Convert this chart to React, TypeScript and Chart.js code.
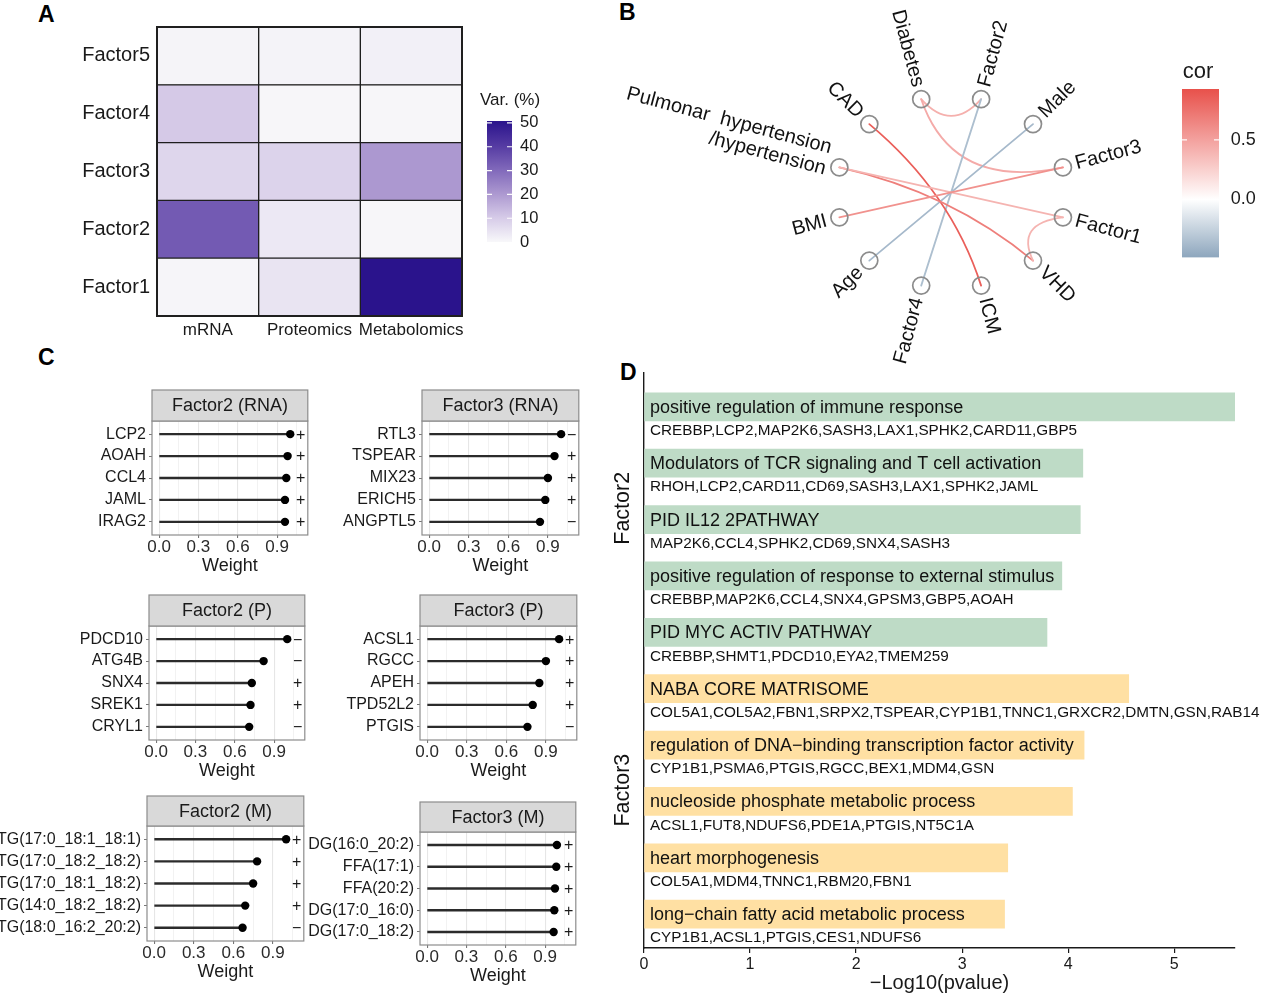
import React, { useEffect, useRef } from 'react';
import { Chart, registerables } from 'chart.js';

Chart.register(...registerables);
const FONT = "'Liberation Sans', Arial, Helvetica, sans-serif";
Chart.defaults.font.family = FONT;
Chart.defaults.color = '#1a1a1a';

// ---------------- Panel A data ----------------
const omicsLabels = ['mRNA', 'Proteomics', 'Metabolomics'];
const factorLabelsA = ['Factor5', 'Factor4', 'Factor3', 'Factor2', 'Factor1'];
const varMRNA = [0.9, 10.5, 7.7, 33.5, 0.7];
const varProteomics = [1.2, 0.4, 8.4, 3.5, 4.6];
const varMetabolomics = [1.7, 0.4, 20.3, 0.4, 50.8];
const varTicks = [0, 10, 20, 30, 40, 50];
const varLimits = [0, 50.8];

// ---------------- Panel B data ----------------
const nodeNames = ['Diabetes', 'Factor2', 'Male', 'Factor3', 'Factor1', 'VHD', 'ICM', 'Factor4', 'Age', 'BMI', 'PH', 'CAD'];
const nodeLabels = [['Diabetes'], ['Factor2'], ['Male'], ['Factor3'], ['Factor1'], ['VHD'], ['ICM'], ['Factor4'], ['Age'], ['BMI'], ['Pulmonar  hypertension', '/hypertension'], ['CAD']];
const edgeFrom = ['Diabetes', 'Diabetes', 'Factor2', 'Male', 'CAD', 'PH', 'PH', 'BMI', 'Factor1'];
const edgeTo = ['Factor2', 'Factor3', 'Factor4', 'Age', 'ICM', 'VHD', 'Factor1', 'Factor3', 'VHD'];
const edgeCor = [0.42, 0.45, -0.35, -0.38, 0.85, 0.68, 0.4, 0.58, 0.4];
const corTicks = [0, 0.5];
const corLimits = [-0.486, 0.926];

// ---------------- Panel C data ----------------
const weightTicks = [0, 0.3, 0.6, 0.9];
const f2RnaGenes = ['LCP2', 'AOAH', 'CCL4', 'JAML', 'IRAG2'];
const f2RnaW = [1.0, 0.98, 0.97, 0.96, 0.96];
const f2RnaSign = ['+', '+', '+', '+', '+'];
const f3RnaGenes = ['RTL3', 'TSPEAR', 'MIX23', 'ERICH5', 'ANGPTL5'];
const f3RnaW = [1.0, 0.95, 0.9, 0.88, 0.84];
const f3RnaSign = ['−', '+', '+', '+', '−'];
const f2PGenes = ['PDCD10', 'ATG4B', 'SNX4', 'SREK1', 'CRYL1'];
const f2PW = [1.0, 0.82, 0.73, 0.72, 0.71];
const f2PSign = ['−', '−', '+', '+', '−'];
const f3PGenes = ['ACSL1', 'RGCC', 'APEH', 'TPD52L2', 'PTGIS'];
const f3PW = [1.0, 0.9, 0.85, 0.8, 0.76];
const f3PSign = ['+', '+', '+', '+', '−'];
const f2MGenes = ['TG(17:0_18:1_18:1)', 'TG(17:0_18:2_18:2)', 'TG(17:0_18:1_18:2)', 'TG(14:0_18:2_18:2)', 'TG(18:0_16:2_20:2)'];
const f2MW = [1.0, 0.78, 0.75, 0.69, 0.67];
const f2MSign = ['+', '+', '+', '+', '−'];
const f3MGenes = ['DG(16:0_20:2)', 'FFA(17:1)', 'FFA(20:2)', 'DG(17:0_16:0)', 'DG(17:0_18:2)'];
const f3MW = [0.99, 0.985, 0.975, 0.97, 0.965];
const f3MSign = ['+', '+', '+', '+', '+'];

// ---------------- Panel D data ----------------
const termNames = [
  'positive regulation of immune response',
  'Modulators of TCR signaling and T cell activation',
  'PID IL12 2PATHWAY',
  'positive regulation of response to external stimulus',
  'PID MYC ACTIV PATHWAY',
  'NABA CORE MATRISOME',
  'regulation of DNA−binding transcription factor activity',
  'nucleoside phosphate metabolic process',
  'heart morphogenesis',
  'long−chain fatty acid metabolic process',
];
const termGenes = [
  'CREBBP,LCP2,MAP2K6,SASH3,LAX1,SPHK2,CARD11,GBP5',
  'RHOH,LCP2,CARD11,CD69,SASH3,LAX1,SPHK2,JAML',
  'MAP2K6,CCL4,SPHK2,CD69,SNX4,SASH3',
  'CREBBP,MAP2K6,CCL4,SNX4,GPSM3,GBP5,AOAH',
  'CREBBP,SHMT1,PDCD10,EYA2,TMEM259',
  'COL5A1,COL5A2,FBN1,SRPX2,TSPEAR,CYP1B1,TNNC1,GRXCR2,DMTN,GSN,RAB14',
  'CYP1B1,PSMA6,PTGIS,RGCC,BEX1,MDM4,GSN',
  'ACSL1,FUT8,NDUFS6,PDE1A,PTGIS,NT5C1A',
  'COL5A1,MDM4,TNNC1,RBM20,FBN1',
  'CYP1B1,ACSL1,PTGIS,CES1,NDUFS6',
];
const termLogP = [5.573, 4.138, 4.114, 3.94, 3.8, 4.571, 4.15, 4.04, 3.43, 3.4];
const termGroup = ['Factor2', 'Factor2', 'Factor2', 'Factor2', 'Factor2', 'Factor3', 'Factor3', 'Factor3', 'Factor3', 'Factor3'];
const logPTicks = [0, 1, 2, 3, 4, 5];

// ---------------- colour helpers ----------------
const VAR_STOPS = [
  [248, 248, 250],
  [214, 203, 232],
  [172, 152, 208],
  [128, 104, 186],
  [84, 58, 162],
  [42, 19, 140],
];
const COR_LOW = [141, 166, 189];
const COR_MID = [255, 255, 255];
const COR_HIGH = [232, 81, 75];
const GREEN = '#BEDBC6';
const ORANGE = '#FFE0A3';

const clamp = (t: number) => Math.max(0, Math.min(1, t));
function mix(a: number[], b: number[], t: number) {
  const c = a.map((v, i) => Math.round(v + (b[i] - v) * clamp(t)));
  return `rgb(${c[0]},${c[1]},${c[2]})`;
}
function varColor(v: number) {
  const t = clamp((v - varLimits[0]) / (varLimits[1] - varLimits[0]));
  const n = VAR_STOPS.length - 1;
  const k = Math.min(n - 1, Math.floor(t * n));
  return mix(VAR_STOPS[k], VAR_STOPS[k + 1], t * n - k);
}
function corColor(v: number) {
  return v >= 0 ? mix(COR_MID, COR_HIGH, v / corLimits[1]) : mix(COR_MID, COR_LOW, v / corLimits[0]);
}

const noPlugins = { legend: { display: false }, tooltip: { enabled: false }, title: { display: false } };

// ---------------- generic canvas ----------------
function ChartCanvas({ left, top, width, height, make }: { left: number; top: number; width: number; height: number; make: () => any }) {
  const ref = useRef<HTMLCanvasElement | null>(null);
  useEffect(() => {
    const chart = new Chart(ref.current as HTMLCanvasElement, make());
    return () => chart.destroy();
  }, []);
  return (
    <canvas
      ref={ref}
      width={width}
      height={height}
      style={{ position: 'absolute', left, top, width, height }}
    />
  );
}

// ---------------- Panel A ----------------
function heatmapConfig() {
  const cols = [varMRNA, varProteomics, varMetabolomics];
  return {
    type: 'bar',
    data: {
      labels: factorLabelsA,
      datasets: omicsLabels.map((name, j) => ({
        label: name,
        data: factorLabelsA.map(() => 1),
        backgroundColor: cols[j].map(varColor),
        borderColor: '#1f1f1f',
        borderWidth: 1,
        borderSkipped: false,
        barPercentage: 1,
        categoryPercentage: 1,
      })),
    },
    options: {
      indexAxis: 'y',
      responsive: false,
      animation: false,
      layout: { padding: { top: 27, right: 13, left: 0, bottom: 0 } },
      plugins: noPlugins,
      scales: {
        x: {
          type: 'linear',
          stacked: true,
          offset: false,
          min: 0,
          max: omicsLabels.length,
          afterBuildTicks: (s: any) => { s.ticks = omicsLabels.map((_, j) => ({ value: j + 0.5 })); },
          afterFit: (s: any) => { s.height = 29; },
          ticks: { callback: (v: number) => omicsLabels[Math.floor(v)], font: { size: 17 }, color: '#1a1a1a', padding: 4, autoSkip: false, maxRotation: 0 },
          grid: { display: false, drawTicks: false },
          border: { display: false },
        },
        y: {
          stacked: true,
          afterFit: (s: any) => { s.width = 157; },
          ticks: { font: { size: 20 }, color: '#1a1a1a', padding: 7 },
          grid: { display: false, drawTicks: false },
          border: { display: false },
        },
      },
    },
    plugins: [{
      id: 'outline',
      afterDatasetsDraw(chart: any) {
        const { ctx, chartArea: a } = chart;
        ctx.save();
        ctx.strokeStyle = '#1f1f1f';
        ctx.lineWidth = 2;
        ctx.strokeRect(a.left, a.top, a.right - a.left, a.bottom - a.top);
        ctx.restore();
      },
    }],
  };
}

function colorbarConfig(opts: { limits: number[]; ticks: number[]; color: (v: number) => string; stops: number[]; title: string; titleSize: number; titlePos: number[]; labelSize: number; labelPad: number; fmt: (v: number) => string; pad: any; axisW: number; tickMarks: number[] }) {
  return {
    type: 'bar',
    data: {
      labels: ['bar'],
      datasets: [{
        data: [[opts.limits[0], opts.limits[1]]],
        backgroundColor: (c: any) => {
          const { chart } = c;
          const a = chart.chartArea;
          if (!a) return '#ccc';
          const ys = chart.scales.y;
          const g = chart.ctx.createLinearGradient(0, ys.getPixelForValue(opts.limits[0]), 0, ys.getPixelForValue(opts.limits[1]));
          opts.stops.forEach((v) => {
            g.addColorStop(clamp((v - opts.limits[0]) / (opts.limits[1] - opts.limits[0])), opts.color(v));
          });
          return g;
        },
        borderWidth: 0,
        barPercentage: 1,
        categoryPercentage: 1,
      }],
    },
    options: {
      responsive: false,
      animation: false,
      layout: { padding: opts.pad },
      plugins: noPlugins,
      scales: {
        x: { display: false },
        y: {
          position: 'right',
          min: opts.limits[0],
          max: opts.limits[1],
          afterBuildTicks: (s: any) => { s.ticks = opts.ticks.map((v) => ({ value: v })); },
          afterFit: (s: any) => { s.width = opts.axisW; },
          ticks: { callback: (v: number) => opts.fmt(v), font: { size: opts.labelSize }, color: '#1a1a1a', padding: opts.labelPad, autoSkip: false },
          grid: { display: false, drawTicks: false },
          border: { display: false },
        },
      },
    },
    plugins: [{
      id: 'cbDecor',
      afterDatasetsDraw(chart: any) {
        const { ctx, chartArea: a, scales } = chart;
        ctx.save();
        ctx.strokeStyle = 'rgba(255,255,255,0.95)';
        ctx.lineWidth = 1.2;
        opts.tickMarks.forEach((v) => {
          const y = scales.y.getPixelForValue(v);
          ctx.beginPath();
          ctx.moveTo(a.left, y); ctx.lineTo(a.left + 5, y);
          ctx.moveTo(a.right - 5, y); ctx.lineTo(a.right, y);
          ctx.stroke();
        });
        ctx.fillStyle = '#1a1a1a';
        ctx.font = `${opts.titleSize}px ${FONT}`;
        ctx.textAlign = 'left';
        ctx.textBaseline = 'middle';
        ctx.fillText(opts.title, opts.titlePos[0], opts.titlePos[1]);
        ctx.restore();
      },
    }],
  };
}

// ---------------- Panel B ----------------
const NET = { canvasW: 575, canvasH: 380, cx: 353.5, cy: 192.5, rx: 120, ry: 102 };
const EDGE_PULL = [0.64, 0.03, 0, 0, 0, 0, 0, 0, 0.66];

function networkConfig() {
  const pos = nodeNames.map((_, i) => {
    const a = ((105 - 30 * i) * Math.PI) / 180;
    return { x: Math.cos(a), y: Math.sin(a), a };
  });
  return {
    type: 'scatter',
    data: {
      datasets: [{
        data: pos.map((p) => ({ x: p.x, y: p.y })),
        pointRadius: 8.5,
        pointBorderWidth: 1.7,
        pointBorderColor: '#8c8c8c',
        pointBackgroundColor: 'rgba(0,0,0,0)',
        clip: false,
      }],
    },
    options: {
      responsive: false,
      animation: false,
      layout: { padding: 0 },
      plugins: noPlugins,
      scales: {
        x: { display: false, type: 'linear', min: -NET.cx / NET.rx, max: (NET.canvasW - NET.cx) / NET.rx },
        y: { display: false, type: 'linear', min: -(NET.canvasH - NET.cy) / NET.ry, max: NET.cy / NET.ry },
      },
    },
    plugins: [{
      id: 'edges',
      beforeDatasetsDraw(chart: any) {
        const { ctx, scales: { x, y } } = chart;
        ctx.save();
        ctx.lineCap = 'round';
        edgeFrom.forEach((f, k) => {
          const p = pos[nodeNames.indexOf(f)];
          const q = pos[nodeNames.indexOf(edgeTo[k])];
          const s = EDGE_PULL[k];
          const cx = (s * (p.x + q.x)) / 2;
          const cy = (s * (p.y + q.y)) / 2;
          ctx.beginPath();
          ctx.moveTo(x.getPixelForValue(p.x), y.getPixelForValue(p.y));
          ctx.quadraticCurveTo(x.getPixelForValue(cx), y.getPixelForValue(cy), x.getPixelForValue(q.x), y.getPixelForValue(q.y));
          ctx.strokeStyle = corColor(edgeCor[k]);
          ctx.lineWidth = 1.8;
          ctx.stroke();
        });
        ctx.restore();
      },
      afterDatasetsDraw(chart: any) {
        const { ctx, scales: { x, y } } = chart;
        ctx.save();
        ctx.fillStyle = '#111';
        ctx.font = `20px ${FONT}`;
        ctx.textBaseline = 'middle';
        nodeLabels.forEach((lines, i) => {
          const p = pos[i];
          const px = x.getPixelForValue(p.x);
          const py = y.getPixelForValue(p.y);
          const ux = Math.cos(p.a);
          const uy = -Math.sin(p.a);
          const right = Math.cos(p.a) > 0;
          ctx.save();
          ctx.translate(px + ux * 13, py + uy * 13);
          ctx.rotate(right ? -p.a : Math.PI - p.a);
          ctx.textAlign = right ? 'left' : 'right';
          const shift = lines.length > 1 ? 0.25 : 0;
          lines.forEach((ln, k) => ctx.fillText(ln, 0, (k - (lines.length - 1) / 2 - shift) * 22));
          ctx.restore();
        });
        ctx.restore();
      },
    }],
  };
}

// ---------------- Panel C ----------------
type Geo = { left: number; right: number; stripTop: number; stripBottom: number; bottom: number };
const LABEL_W = 150;

function lollipopBox(g: Geo) {
  const cl = Math.round(g.left) - LABEL_W;
  const ct = Math.round(g.stripTop) - 2;
  const cw = Math.round(g.right) - cl + 4;
  const ch = Math.round(g.bottom) - ct + 46;
  return { cl, ct, cw, ch };
}

function lollipopConfig(title: string, genes: string[], weights: number[], signs: string[], g: Geo) {
  const { ct } = lollipopBox(g);
  const minorTicks = [0, 0.15, 0.3, 0.45, 0.6, 0.75, 0.9, 1.05];
  const isMajor = (v: number) => weightTicks.some((t) => Math.abs(t - v) < 1e-6);
  const signX = 1.08;
  return {
    type: 'bar',
    data: {
      datasets: [
        {
          type: 'scatter',
          data: genes.map((_, i) => ({ x: weights[i], y: i })),
          pointRadius: 4.2,
          pointBackgroundColor: '#000',
          pointBorderWidth: 0,
        },
        {
          type: 'bar',
          indexAxis: 'y',
          data: genes.map((_, i) => ({ x: weights[i], y: i })),
          backgroundColor: '#2b2b2b',
          barThickness: 1.7,
          borderWidth: 0,
        },
      ],
    },
    options: {
      responsive: false,
      animation: false,
      layout: { padding: { top: Math.round(g.stripBottom) - ct, right: 4, left: 0, bottom: 2 } },
      plugins: noPlugins,
      scales: {
        x: {
          type: 'linear',
          offset: false,
          min: -0.054,
          max: 1.134,
          afterBuildTicks: (s: any) => { s.ticks = minorTicks.map((v) => ({ value: v })); },
          afterFit: (s: any) => { s.height = 44; },
          ticks: { callback: (v: number) => (isMajor(v) ? v.toFixed(1) : ''), font: { size: 17 }, color: '#2a2a2a', padding: -1, autoSkip: false, maxRotation: 0 },
          grid: {
            offset: false,
            color: (c: any) => (c.tick && isMajor(c.tick.value) ? '#e6e6e6' : '#efefef'),
            lineWidth: (c: any) => (c.tick && isMajor(c.tick.value) ? 1.1 : 0.8),
            tickColor: (c: any) => (c.tick && isMajor(c.tick.value) ? '#777' : 'rgba(0,0,0,0)'),
            tickLength: 3,
          },
          border: { display: false },
          title: { display: true, text: 'Weight', font: { size: 18 }, color: '#1a1a1a', padding: { top: 0, bottom: 2 } },
        },
        y: {
          type: 'linear',
          offset: false,
          min: -0.6,
          max: genes.length - 0.4,
          reverse: true,
          afterBuildTicks: (s: any) => { s.ticks = genes.map((_, i) => ({ value: i })); },
          afterFit: (s: any) => { s.width = LABEL_W; },
          ticks: { callback: (v: number) => genes[v], font: { size: 16 }, color: '#1a1a1a', padding: 3, autoSkip: false },
          grid: { offset: false, drawOnChartArea: false, tickLength: 3, tickColor: '#777' },
          border: { display: false },
        },
      },
    },
    plugins: [{
      id: 'facet',
      afterDatasetsDraw(chart: any) {
        const { ctx, chartArea: a, scales } = chart;
        ctx.save();
        ctx.strokeStyle = '#8c8c8c';
        ctx.lineWidth = 1.2;
        ctx.strokeRect(a.left, a.top, a.right - a.left, a.bottom - a.top);
        const st = 2;
        ctx.fillStyle = '#d9d9d9';
        ctx.fillRect(a.left, st, a.right - a.left, a.top - st);
        ctx.strokeRect(a.left, st, a.right - a.left, a.top - st);
        ctx.fillStyle = '#1a1a1a';
        ctx.font = `18px ${FONT}`;
        ctx.textAlign = 'center';
        ctx.textBaseline = 'middle';
        ctx.fillText(title, (a.left + a.right) / 2, (st + a.top) / 2 + 1);
        ctx.font = `16px ${FONT}`;
        const sx = scales.x.getPixelForValue(signX);
        signs.forEach((s, i) => ctx.fillText(s, sx, scales.y.getPixelForValue(i) + 1));
        ctx.restore();
      },
    }],
  };
}

function Lollipop({ title, genes, weights, signs, geo }: { title: string; genes: string[]; weights: number[]; signs: string[]; geo: Geo }) {
  const b = lollipopBox(geo);
  return <ChartCanvas left={b.cl} top={b.ct} width={b.cw} height={b.ch} make={() => lollipopConfig(title, genes, weights, signs, geo)} />;
}

// ---------------- Panel D ----------------
function enrichConfig() {
  return {
    type: 'bar',
    data: {
      datasets: [{
        data: termLogP.map((v, i) => ({ x: v, y: i })),
        backgroundColor: termGroup.map((g) => (g === 'Factor2' ? GREEN : ORANGE)),
        barThickness: 28,
        borderWidth: 0,
      }],
    },
    options: {
      indexAxis: 'y',
      responsive: false,
      animation: false,
      layout: { padding: { top: 13, right: 30, left: 0, bottom: 0 } },
      plugins: noPlugins,
      scales: {
        x: {
          type: 'linear',
          offset: false,
          min: 0,
          max: Math.max(...termLogP),
          afterBuildTicks: (s: any) => { s.ticks = logPTicks.map((v) => ({ value: v })); },
          afterFit: (s: any) => { s.height = 50; },
          ticks: { font: { size: 16 }, color: '#1a1a1a', padding: 1.5, autoSkip: false, maxRotation: 0 },
          grid: { drawOnChartArea: false, tickLength: 5, tickColor: '#1a1a1a', lineWidth: 1.2 },
          border: { display: true, color: '#1a1a1a', width: 1.4 },
          title: { display: true, text: '−Log10(pvalue)', font: { size: 20 }, color: '#1a1a1a', padding: { top: 0, bottom: 3 } },
        },
        y: {
          type: 'linear',
          offset: false,
          min: -0.6,
          max: termNames.length - 0.4,
          reverse: true,
          afterFit: (s: any) => { s.width = 44; },
          ticks: { display: false },
          grid: { display: false, drawTicks: false, offset: false },
          border: { display: true, color: '#1a1a1a', width: 1.4 },
        },
      },
    },
    plugins: [{
      id: 'terms',
      afterDatasetsDraw(chart: any) {
        const { ctx, chartArea: a, scales } = chart;
        const meta = chart.getDatasetMeta(0);
        ctx.save();
        ctx.fillStyle = '#111';
        ctx.textAlign = 'left';
        ctx.textBaseline = 'middle';
        meta.data.forEach((bar: any, i: number) => {
          ctx.font = `18px ${FONT}`;
          ctx.fillText(termNames[i], a.left + 6, bar.y + 1);
          ctx.font = `15.3px ${FONT}`;
          ctx.fillText(termGenes[i], a.left + 6, bar.y + 24);
        });
        ctx.font = `21.5px ${FONT}`;
        ctx.textAlign = 'center';
        const groups = Array.from(new Set(termGroup));
        groups.forEach((g) => {
          const idx = termGroup.map((t, i) => (t === g ? i : -1)).filter((i) => i >= 0);
          const mean = idx.reduce((s, v) => s + v, 0) / idx.length;
          const yy = scales.y.getPixelForValue(mean - 0.2);
          ctx.save();
          ctx.translate(a.left - 21, yy);
          ctx.rotate(-Math.PI / 2);
          ctx.fillText(g, 0, 0);
          ctx.restore();
        });
        ctx.restore();
      },
    }],
  };
}

// ---------------- layout ----------------
const letterStyle = (left: number, baseline: number): React.CSSProperties => ({
  position: 'absolute',
  left,
  top: baseline - 19.5,
  font: `bold 23px ${FONT}`,
  lineHeight: '23px',
  color: '#000',
});

const geoF2Rna: Geo = { left: 151.6, right: 308, stripTop: 390, stripBottom: 420.7, bottom: 535 };
const geoF3Rna: Geo = { left: 422.3, right: 578.7, stripTop: 390, stripBottom: 420.7, bottom: 535 };
const geoF2P: Geo = { left: 148.5, right: 305, stripTop: 595, stripBottom: 626, bottom: 740 };
const geoF3P: Geo = { left: 420, right: 576.5, stripTop: 595, stripBottom: 626, bottom: 740 };
const geoF2M: Geo = { left: 147.3, right: 303.5, stripTop: 796, stripBottom: 826, bottom: 941 };
const geoF3M: Geo = { left: 419.5, right: 576, stripTop: 801.7, stripBottom: 831.7, bottom: 945 };

export default function App() {
  return (
    <div style={{ position: 'absolute', left: 0, top: 0, width: 1265, height: 998, background: '#fff', overflow: 'hidden', fontFamily: FONT }}>
      <div style={letterStyle(38, 22)}>A</div>
      <div style={letterStyle(619, 20)}>B</div>
      <div style={letterStyle(38, 365)}>C</div>
      <div style={letterStyle(620, 380)}>D</div>

      <ChartCanvas left={0} top={0} width={475} height={345} make={heatmapConfig} />
      <ChartCanvas
        left={475}
        top={85}
        width={80}
        height={175}
        make={() => colorbarConfig({
          limits: varLimits, ticks: varTicks, color: varColor, stops: [0, 10.16, 20.32, 30.48, 40.64, 50.8],
          title: 'Var. (%)', titleSize: 17, titlePos: [5, 15], labelSize: 16.5, labelPad: 8,
          fmt: (v) => String(v), pad: { top: 36, left: 12, right: 0, bottom: 14 }, axisW: 43, tickMarks: [10, 20, 30, 40, 50],
        })}
      />

      <ChartCanvas left={600} top={0} width={NET.canvasW} height={NET.canvasH} make={networkConfig} />
      <ChartCanvas
        left={1170}
        top={50}
        width={95}
        height={230}
        make={() => colorbarConfig({
          limits: corLimits, ticks: corTicks, color: corColor, stops: [corLimits[0], -0.25, 0, 0.25, 0.5, 0.75, corLimits[1]],
          title: 'cor', titleSize: 22, titlePos: [12.7, 21.7], labelSize: 18, labelPad: 11.7,
          fmt: (v) => v.toFixed(1), pad: { top: 39, left: 12, right: 0, bottom: 12 }, axisW: 46, tickMarks: [0.5],
        })}
      />

      <Lollipop title="Factor2 (RNA)" genes={f2RnaGenes} weights={f2RnaW} signs={f2RnaSign} geo={geoF2Rna} />
      <Lollipop title="Factor3 (RNA)" genes={f3RnaGenes} weights={f3RnaW} signs={f3RnaSign} geo={geoF3Rna} />
      <Lollipop title="Factor2 (P)" genes={f2PGenes} weights={f2PW} signs={f2PSign} geo={geoF2P} />
      <Lollipop title="Factor3 (P)" genes={f3PGenes} weights={f3PW} signs={f3PSign} geo={geoF3P} />
      <Lollipop title="Factor2 (M)" genes={f2MGenes} weights={f2MW} signs={f2MSign} geo={geoF2M} />
      <Lollipop title="Factor3 (M)" genes={f3MGenes} weights={f3MW} signs={f3MSign} geo={geoF3M} />

      <ChartCanvas left={600} top={360} width={665} height={638} make={enrichConfig} />
    </div>
  );
}
